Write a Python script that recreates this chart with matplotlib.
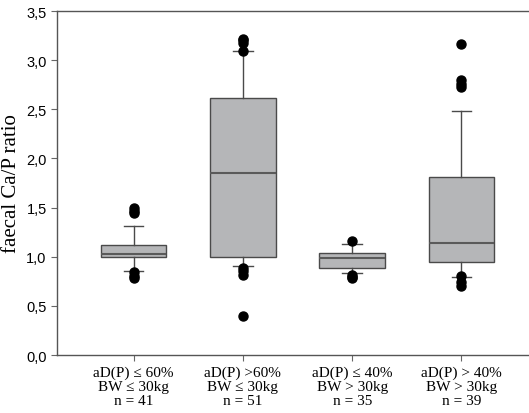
import matplotlib
matplotlib.use("Agg")
import matplotlib.pyplot as plt

# box statistics
groups = ["aD(P) \u2264 60%\nBW \u2264 30kg\nn = 41",
          "aD(P) >60%\nBW \u2264 30kg\nn = 51",
          "aD(P) \u2264 40%\nBW > 30kg\nn = 35",
          "aD(P) > 40%\nBW > 30kg\nn = 39"]
q1 = [0.997, 1.00, 0.885, 0.946]
med = [1.03, 1.85, 0.99, 1.14]
q3 = [1.12, 2.61, 1.04, 1.81]
whislo = [0.85, 0.91, 0.83, 0.79]
whishi = [1.31, 3.09, 1.13, 2.48]
fliers = [[1.44, 1.47, 1.50, 0.84, 0.80, 0.78],
          [3.09, 3.17, 3.20, 3.22, 0.89, 0.85, 0.81, 0.40],
          [1.16, 0.81, 0.79, 0.78],
          [3.16, 2.80, 2.76, 2.73, 0.80, 0.74, 0.70]]
yticks = [0.0, 0.5, 1.0, 1.5, 2.0, 2.5, 3.0, 3.5]
ytick_labels = ["0,0", "0,5", "1,0", "1,5", "2,0", "2,5", "3,0", "3,5"]

stats = []
for i in range(len(groups)):
    stats.append({"q1": q1[i], "med": med[i], "q3": q3[i],
                  "whislo": whislo[i], "whishi": whishi[i],
                  "fliers": fliers[i]})

fig = plt.figure(figsize=(5.29, 4.14), dpi=100)
ax = fig.add_axes([0.108, 0.140, 0.909, 0.831])

edge = "#4a4a4a"
ax.bxp(stats, positions=[1, 2, 3, 4], widths=0.6, patch_artist=True,
       boxprops=dict(facecolor="#b5b6b8", edgecolor=edge, linewidth=1.0),
       medianprops=dict(color="#5a5a5a", linewidth=1.5),
       whiskerprops=dict(color=edge, linewidth=1.0),
       capprops=dict(color=edge, linewidth=1.0),
       capwidths=0.18,
       flierprops=dict(marker="o", markerfacecolor="black",
                       markeredgecolor="black", markersize=6.5))

ax.set_xlim(0.3, 4.7)
ax.set_ylim(0, 3.5)
ax.set_yticks(yticks)
ax.set_yticklabels(ytick_labels, family="Liberation Sans", fontsize=10.5)
ax.set_xticks([1, 2, 3, 4])
ax.set_xticklabels(groups, family=["Liberation Serif", "DejaVu Serif"],
                   fontsize=11, linespacing=1.1)
ax.tick_params(direction="out", length=4, color="#666666", width=0.8)
for s in ax.spines.values():
    s.set_color("#555555")
    s.set_linewidth(1.0)
ax.spines["right"].set_visible(False)

ax.set_ylabel("faecal Ca/P ratio", family="Liberation Serif", fontsize=15)
ax.yaxis.set_label_coords(-0.075, 0.5)

fig.savefig("out.png", dpi=100)
